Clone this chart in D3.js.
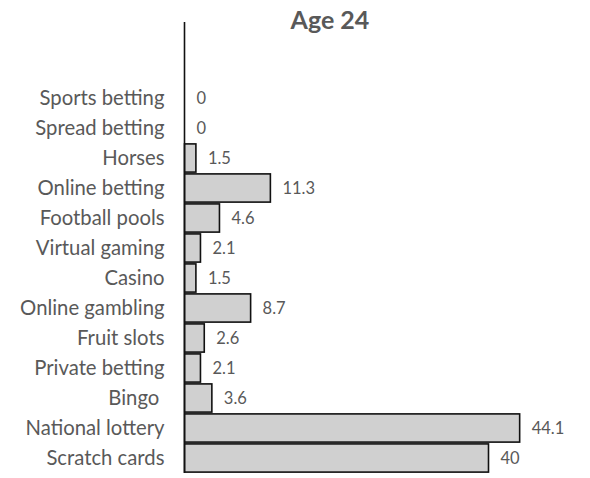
<!DOCTYPE html>
<html>
<head>
<meta charset="utf-8">
<script src="https://cdn.jsdelivr.net/npm/d3@7"></script>
<style>
  html, body { margin: 0; padding: 0; background: #fff; }
  svg { display: block; }
  .tick text { white-space: pre; }
</style>
</head>
<body>
<svg id="chart" width="590" height="478"></svg>
<script>
// Share of respondents taking part in each gambling activity at age 24
const categories = [
  "Sports betting", "Spread betting", "Horses", "Online betting",
  "Football pools", "Virtual gaming", "Casino", "Online gambling",
  "Fruit slots", "Private betting", "Bingo ", "National lottery", "Scratch cards"
];
const values = [0, 0, 1.5, 11.3, 4.6, 2.1, 1.5, 8.7, 2.6, 2.1, 3.6, 44.1, 40];
const valueLabels = ["0", "0", "1.5", "11.3", "4.6", "2.1", "1.5", "8.7", "2.6", "2.1", "3.6", "44.1", "40"];
const title = "Age 24";

const svg = d3.select("#chart");
const font = "Lato, 'Open Sans', sans-serif";
const textColor = "#595959";

const x = d3.scaleLinear().domain([0, 40]).range([184.5, 488.5]);
const y = d3.scaleBand().domain(categories).range([83, 473]).paddingInner(0.06).paddingOuter(0.03);

// Title
svg.append("text")
  .attr("x", 330).attr("y", 29)
  .attr("text-anchor", "middle")
  .attr("font-family", font)
  .attr("font-weight", "bold")
  .attr("font-size", 25)
  .attr("fill", textColor)
  .text(title);

// Bars
svg.append("g").selectAll("rect")
  .data(categories)
  .join("rect")
  .attr("x", x(0))
  .attr("y", (d) => y(d))
  .attr("width", (d, i) => x(values[i]) - x(0))
  .attr("height", y.bandwidth())
  .attr("fill", "#d0d0d0")
  .attr("stroke", "#111")
  .attr("stroke-width", 1.6);

// Category axis
const yAxis = d3.axisLeft(y).tickSize(0).tickPadding(20);
const gAxis = svg.append("g")
  .attr("transform", `translate(${x(0)},0)`)
  .call(yAxis);
gAxis.select(".domain").remove();
gAxis.selectAll("text")
  .attr("font-family", font)
  .attr("font-size", 20.3)
  .attr("fill", textColor);

svg.append("line")
  .attr("x1", x(0)).attr("x2", x(0))
  .attr("y1", 22).attr("y2", 473)
  .attr("stroke", "#111")
  .attr("stroke-width", 1.6);

// Value labels
svg.append("g").selectAll("text")
  .data(categories)
  .join("text")
  .attr("x", (d, i) => x(values[i]) + 12)
  .attr("y", (d) => y(d) + y.bandwidth() / 2)
  .attr("dy", "0.35em")
  .attr("font-family", font)
  .attr("font-size", 16.5)
  .attr("fill", textColor)
  .text((d, i) => valueLabels[i]);
</script>
</body>
</html>
